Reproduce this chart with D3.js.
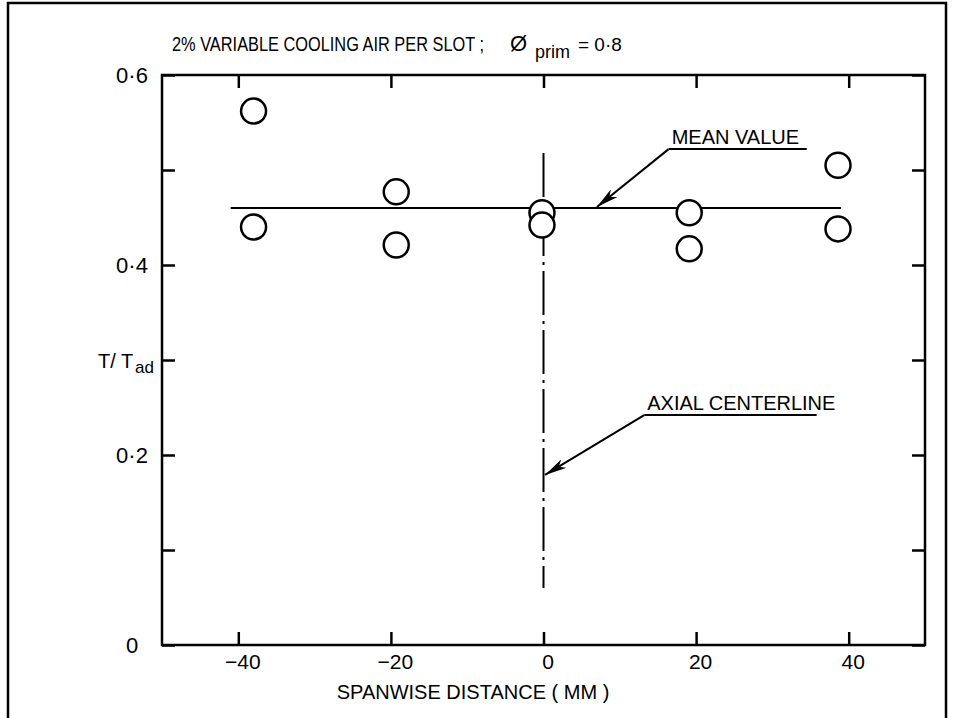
<!DOCTYPE html>
<html>
<head>
<meta charset="utf-8">
<script src="https://cdn.jsdelivr.net/npm/d3@7"></script>
<style>
  html, body { margin: 0; padding: 0; background: #fff; }
  svg { display: block; }
  text { font-family: "Liberation Sans", Arial, sans-serif; fill: #000; }
</style>
</head>
<body>
<svg id="chart" width="954" height="718"></svg>
<script>
// Spanwise distribution of the temperature ratio
const spanwise = [-38.0, -38.0, -19.3, -19.3, -0.2, -0.2, 19.1, 19.1, 38.6, 38.6];
const ratio    = [0.562, 0.440, 0.477, 0.421, 0.455, 0.442, 0.455, 0.417, 0.505, 0.438];

const meanValue = 0.46;
const meanExtent = [-41, 39];
const centerlineExtent = [0.06, 0.518];

const xDomain = [-50, 50];
const yDomain = [0, 0.6];
const xTickValues = [-40, -20, 0, 20, 40];
const yTickValues = [0, 0.1, 0.2, 0.3, 0.4, 0.5, 0.6];
const yTickLabels = { 0: "0", 0.2: "0·2", 0.4: "0·4", 0.6: "0·6" };

const titleText = "2% VARIABLE COOLING AIR PER SLOT ;";
const xTitle = "SPANWISE DISTANCE ( MM )";

// annotation anchors in data units: [x, y]
const meanNote = { text: "MEAN VALUE", start: [16.4, 0.522], end: [34.5, 0.522], tip: [7.0, 0.461] };
const axisNote = { text: "AXIAL CENTERLINE", start: [13.2, 0.242], end: [35.8, 0.242], tip: [0.2, 0.179] };

const svg = d3.select("#chart");
const W = 954, H = 718;
const plot = { left: 162, right: 925, top: 75, bottom: 645 };
const FONT = "Liberation Sans, Arial, sans-serif";

svg.append("rect").attr("width", W).attr("height", H).attr("fill", "#fff");

// outer page frame (open at the bottom)
svg.append("path")
  .attr("d", `M8,${H} L8,3 L946,3 L946,${H}`)
  .attr("fill", "none").attr("stroke", "#000").attr("stroke-width", 2.5);

const x = d3.scaleLinear().domain(xDomain).range([plot.left, plot.right]);
const y = d3.scaleLinear().domain(yDomain).range([plot.bottom, plot.top]);

const tickLen = 13;
const fmtY = d => yTickLabels[d] || "";

// bottom axis: inward ticks with labels
const gx = svg.append("g").attr("transform", `translate(0,${plot.bottom})`)
  .call(d3.axisBottom(x).tickValues(xTickValues).tickSizeInner(-tickLen).tickSizeOuter(0)
    .tickPadding(9).tickFormat(d => d < 0 ? "−" + Math.abs(d) : String(d)));
gx.select(".domain").remove();
gx.selectAll("line").attr("stroke", "#000").attr("stroke-width", 2.5);
gx.selectAll("text").attr("font-size", 21).attr("font-family", FONT).attr("fill", "#000").attr("dx", 4);

// top axis: ticks only
const gxt = svg.append("g").attr("transform", `translate(0,${plot.top})`)
  .call(d3.axisTop(x).tickValues(xTickValues).tickSizeInner(-tickLen).tickSizeOuter(0).tickFormat(""));
gxt.select(".domain").remove();
gxt.selectAll("line").attr("stroke", "#000").attr("stroke-width", 2.5);

// left axis with labels
const gy = svg.append("g").attr("transform", `translate(${plot.left},0)`)
  .call(d3.axisLeft(y).tickValues(yTickValues).tickSizeInner(-tickLen).tickSizeOuter(0)
    .tickPadding(0).tickFormat(fmtY));
gy.select(".domain").remove();
gy.selectAll("line").attr("stroke", "#000").attr("stroke-width", 2.5);
gy.selectAll("text").attr("font-size", 22).attr("font-family", FONT)
  .attr("fill", "#000").attr("text-anchor", "middle").attr("x", 132 - plot.left).attr("dy", "0.36em");

// right axis: ticks only
const gyr = svg.append("g").attr("transform", `translate(${plot.right},0)`)
  .call(d3.axisRight(y).tickValues(yTickValues).tickSizeInner(-tickLen).tickSizeOuter(0).tickFormat(""));
gyr.select(".domain").remove();
gyr.selectAll("line").attr("stroke", "#000").attr("stroke-width", 2.5);

// plot frame
svg.append("rect")
  .attr("x", plot.left).attr("y", plot.top)
  .attr("width", plot.right - plot.left).attr("height", plot.bottom - plot.top)
  .attr("fill", "none").attr("stroke", "#000").attr("stroke-width", 2.5);

// axial centerline (dash-dot)
svg.append("line")
  .attr("x1", x(0)).attr("x2", x(0))
  .attr("y1", y(centerlineExtent[1])).attr("y2", y(centerlineExtent[0]))
  .attr("stroke", "#000").attr("stroke-width", 2)
  .attr("stroke-dasharray", "44,6,3,6");

// mean value line
svg.append("line")
  .attr("x1", x(meanExtent[0])).attr("x2", x(meanExtent[1]))
  .attr("y1", y(meanValue)).attr("y2", y(meanValue))
  .attr("stroke", "#000").attr("stroke-width", 2.2);

// data points
const pts = spanwise.map((s, i) => ({ s, r: ratio[i] }));
svg.append("g").selectAll("circle").data(pts).join("circle")
  .attr("cx", d => x(d.s)).attr("cy", d => y(d.r)).attr("r", 12.5)
  .attr("fill", "#fff").attr("stroke", "#000").attr("stroke-width", 2.5);

// annotations with underlined leader and arrow
svg.append("defs").append("marker")
  .attr("id", "arrow").attr("viewBox", "0 0 22 10").attr("refX", 22).attr("refY", 5)
  .attr("markerWidth", 22).attr("markerHeight", 10).attr("markerUnits", "userSpaceOnUse")
  .attr("orient", "auto")
  .append("path").attr("d", "M0,0 L22,5 L0,10 L6,5 Z").attr("fill", "#000");

function annotate(note) {
  const g = svg.append("g");
  g.append("text").attr("x", x(note.start[0]) + 3).attr("y", y(note.start[1]) - 5)
    .attr("font-size", 20).text(note.text);
  g.append("line")
    .attr("x1", x(note.start[0])).attr("x2", x(note.end[0]))
    .attr("y1", y(note.start[1])).attr("y2", y(note.end[1]))
    .attr("stroke", "#000").attr("stroke-width", 2);
  g.append("line")
    .attr("x1", x(note.start[0])).attr("y1", y(note.start[1]))
    .attr("x2", x(note.tip[0])).attr("y2", y(note.tip[1]))
    .attr("stroke", "#000").attr("stroke-width", 2)
    .attr("marker-end", "url(#arrow)");
}
annotate(meanNote);
annotate(axisNote);

// title: condition text, then the primary equivalence ratio
svg.append("text").attr("x", 172).attr("y", 51).attr("font-size", 20)
  .attr("textLength", 312).attr("lengthAdjust", "spacingAndGlyphs").text(titleText);
svg.append("text").attr("x", 510).attr("y", 51).attr("font-size", 22).text("Ø");
svg.append("text").attr("x", 535).attr("y", 58).attr("font-size", 18).text("prim");
svg.append("text").attr("x", 578).attr("y", 51).attr("font-size", 19).text("= 0·8");

// y axis title
svg.append("text").attr("x", 98).attr("y", 368).attr("font-size", 20).text("T/ T");
svg.append("text").attr("x", 135).attr("y", 373).attr("font-size", 17).text("ad");

// x axis title
svg.append("text").attr("x", 473).attr("y", 699).attr("text-anchor", "middle")
  .attr("font-size", 20).text(xTitle);
</script>
</body>
</html>
